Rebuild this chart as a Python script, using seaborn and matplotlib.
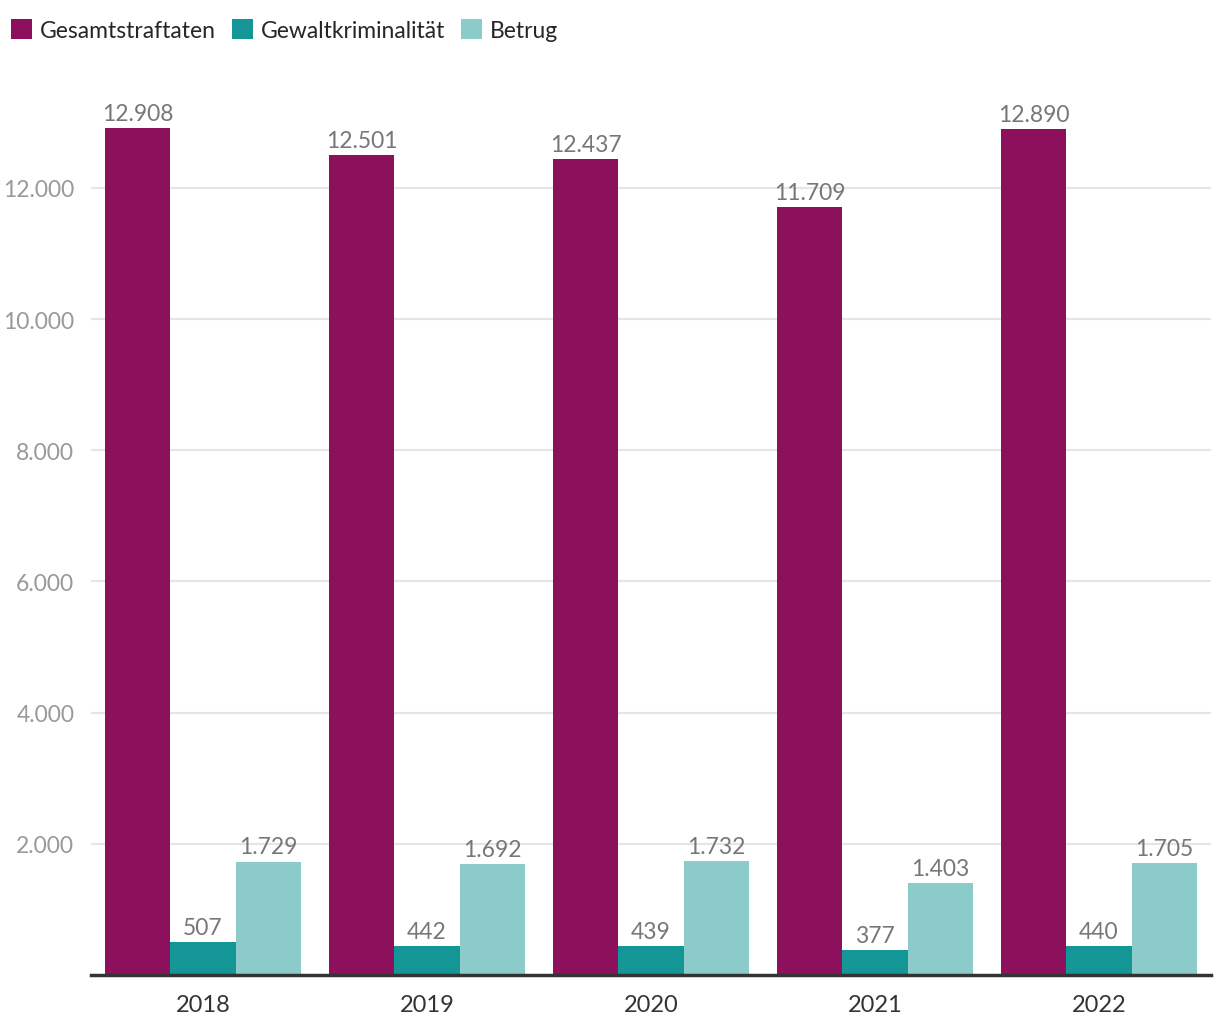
import matplotlib
matplotlib.use("Agg")
import matplotlib.pyplot as plt
import seaborn as sns
import pandas as pd
from matplotlib.patches import Patch

years = ["2018", "2019", "2020", "2021", "2022"]
series = ["Gesamtstraftaten", "Gewaltkriminalität", "Betrug"]
gesamt = [12908, 12501, 12437, 11709, 12890]
gewalt = [507, 442, 439, 377, 440]
betrug = [1729, 1692, 1732, 1403, 1705]
yticks = [2000, 4000, 6000, 8000, 10000, 12000]
colors = ["#8c105c", "#149696", "#8bcbca"]

rows = []
for name, vals in zip(series, [gesamt, gewalt, betrug]):
    for y, v in zip(years, vals):
        rows.append({"Jahr": y, "Serie": name, "Wert": v})
df = pd.DataFrame(rows)

sns.set_theme(style="white")
plt.rcParams["font.family"] = ["Lato", "DejaVu Sans"]

fig = plt.figure(figsize=(12.2, 10.2), dpi=100)
ax = fig.add_axes([0.0746, 0.0431, 0.918, 0.8785])

sns.barplot(data=df, x="Jahr", y="Wert", hue="Serie", order=years,
            hue_order=series, palette=colors, width=0.877, gap=0,
            saturation=1, ax=ax, legend=False, errorbar=None,
            linewidth=0, edgecolor="none")

def fmt(v):
    return f"{v:,.0f}".replace(",", ".")

for cont in ax.containers:
    ax.bar_label(cont, labels=[fmt(b.get_height()) for b in cont],
                 padding=3, fontsize=16.5, color="#777777")

ax.set_xlim(-0.5, 4.5)
ax.set_ylim(0, 13660)
ax.set_yticks(yticks)
ax.set_yticklabels([fmt(t) for t in yticks])
ax.tick_params(axis="y", length=0, labelsize=16.5, labelcolor="#999999", pad=12)
ax.tick_params(axis="x", length=0, labelsize=17, labelcolor="#333333", pad=14)
ax.grid(axis="y", color="#e5e5e5", linewidth=1.6)
ax.set_axisbelow(True)
for s in ["top", "right", "left"]:
    ax.spines[s].set_visible(False)
ax.spines["bottom"].set_color("#333333")
ax.spines["bottom"].set_linewidth(2.5)
ax.set_xlabel("")
ax.set_ylabel("")

handles = [Patch(facecolor=c, edgecolor="none") for c in colors]
fig.legend(handles, series, loc="upper left", bbox_to_anchor=(-0.002, 0.994),
           ncol=3, frameon=False, handlelength=0.9, handleheight=0.95,
           handletextpad=0.35, columnspacing=0.7, borderpad=0.2,
           borderaxespad=0.4,
           prop={"family": ["Lato"], "size": 16.5})

fig.savefig("out.png", dpi=100)
